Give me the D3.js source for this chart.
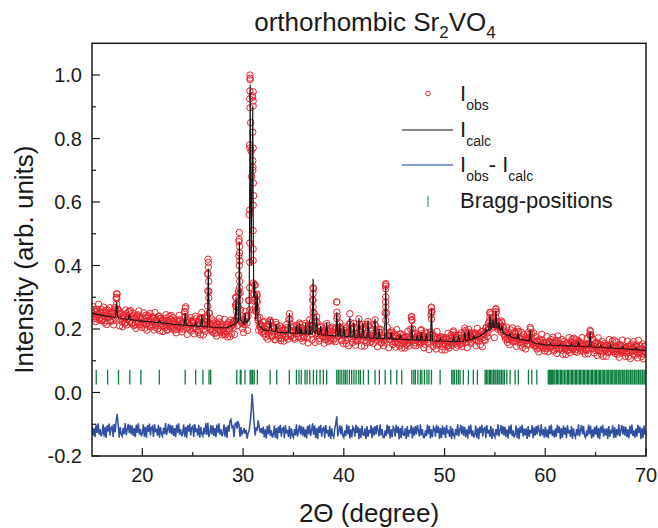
<!DOCTYPE html>
<html><head><meta charset="utf-8">
<script src="https://cdn.jsdelivr.net/npm/d3@7"></script>
<style>body{margin:0;background:#fff}svg{display:block}text{font-family:"Liberation Sans",Arial,Helvetica,sans-serif;fill:#1a1a1a}</style>
</head><body><svg id="c" width="658" height="528"></svg>
<script>
// ---- axis ticks ----
const xTicks=[20,30,40,50,60,70];
const xMinor=[25,35,45,55,65];
const yTicks=[-0.2,0,0.2,0.4,0.6,0.8,1.0];
const yTickLabels=["-0.2","0.0","0.2","0.4","0.6","0.8","1.0"];
const yMinor=[-0.1,0.1,0.3,0.5,0.7,0.9];

// ---- observed intensity, 2θ = 15.00 ... 70.00 step 0.1 ----
const obsStart=15, obsStep=0.1;
const iObs=[
0.252,0.238,0.261,0.244,0.233,0.256,0.247,0.229,0.250,0.262,
0.231,0.254,0.242,0.226,0.259,0.245,0.236,0.251,0.228,0.248,
0.240,0.226,0.249,0.235,0.298,0.310,0.262,0.231,0.247,0.238,
0.222,0.243,0.236,0.219,0.248,0.231,0.240,0.255,0.227,0.238,
0.219,0.241,0.232,0.215,0.236,0.245,0.224,0.212,0.238,0.229,
0.236,0.218,0.229,0.243,0.214,0.226,0.239,0.209,0.231,0.222,
0.213,0.235,0.226,0.205,0.229,0.218,0.240,0.232,0.211,0.224,
0.229,0.207,0.221,0.234,0.212,0.196,0.225,0.216,0.230,0.208,
0.221,0.203,0.227,0.214,0.199,0.223,0.211,0.229,0.206,0.218,
0.209,0.222,0.255,0.270,0.226,0.203,0.217,0.198,0.213,0.225,
0.201,0.218,0.207,0.232,0.215,0.195,0.222,0.209,0.236,0.252,
0.214,0.199,0.211,0.223,0.206,0.372,0.318,0.218,0.201,0.213,
0.196,0.219,0.208,0.187,0.214,0.202,0.222,0.193,0.209,0.216,
0.199,0.184,0.211,0.205,0.192,0.215,0.201,0.176,0.209,0.218,
0.212,0.206,0.227,0.298,0.236,0.241,0.482,0.314,0.226,0.218,
0.224,0.214,0.256,0.232,0.219,0.241,0.560,0.985,0.760,0.935,
0.452,0.308,0.338,0.254,0.305,0.226,0.214,0.207,0.199,0.211,
0.193,0.205,0.186,0.199,0.210,0.181,0.196,0.228,0.192,0.176,
0.188,0.201,0.167,0.214,0.193,0.179,0.198,0.184,0.171,0.195,
0.186,0.199,0.176,0.191,0.205,0.183,0.248,0.207,0.179,0.194,
0.189,0.174,0.198,0.211,0.186,0.177,0.219,0.192,0.203,0.181,
0.176,0.193,0.218,0.187,0.172,0.199,0.229,0.196,0.184,0.292,
0.327,0.201,0.185,0.238,0.179,0.193,0.171,0.209,0.188,0.176,
0.190,0.168,0.183,0.217,0.196,0.175,0.187,0.163,0.192,0.181,
0.170,0.186,0.203,0.285,0.194,0.177,0.219,0.183,0.166,0.188,
0.207,0.179,0.164,0.187,0.172,0.191,0.248,0.183,0.169,0.181,
0.218,0.176,0.162,0.184,0.171,0.232,0.189,0.167,0.178,0.215,
0.178,0.163,0.185,0.172,0.224,0.176,0.158,0.181,0.169,0.186,
0.173,0.229,0.180,0.165,0.177,0.198,0.168,0.157,0.179,0.170,
0.165,0.251,0.340,0.206,0.176,0.168,0.181,0.189,0.161,0.174,
0.170,0.158,0.177,0.166,0.152,0.173,0.184,0.169,0.155,0.171,
0.175,0.162,0.150,0.168,0.177,0.158,0.171,0.238,0.186,0.163,
0.169,0.156,0.172,0.181,0.160,0.167,0.153,0.198,0.176,0.162,
0.166,0.177,0.185,0.159,0.168,0.155,0.190,0.268,0.185,0.170,
0.158,0.166,0.149,0.171,0.161,0.154,0.174,0.163,0.145,0.168,
0.165,0.151,0.172,0.158,0.147,0.169,0.156,0.176,0.162,0.194,
0.172,0.155,0.166,0.149,0.181,0.163,0.152,0.170,0.158,0.167,
0.203,0.171,0.158,0.176,0.199,0.168,0.155,0.174,0.165,0.182,
0.167,0.180,0.162,0.175,0.186,0.171,0.179,0.192,0.173,0.185,
0.182,0.203,0.195,0.188,0.206,0.251,0.214,0.203,0.232,0.207,
0.212,0.262,0.225,0.199,0.223,0.208,0.191,0.220,0.195,0.183,
0.176,0.190,0.171,0.182,0.167,0.184,0.173,0.162,0.178,0.169,
0.174,0.160,0.168,0.193,0.171,0.157,0.166,0.175,0.154,0.163,
0.158,0.169,0.152,0.164,0.171,0.205,0.173,0.155,0.162,0.148,
0.157,0.146,0.163,0.151,0.140,0.159,0.148,0.165,0.143,0.154,
0.146,0.157,0.139,0.152,0.161,0.154,0.143,0.158,0.136,0.149,
0.155,0.141,0.150,0.162,0.137,0.153,0.145,0.133,0.151,0.144,
0.139,0.156,0.147,0.134,0.152,0.141,0.160,0.149,0.138,0.153,
0.143,0.136,0.150,0.163,0.141,0.132,0.155,0.146,0.139,0.151,
0.135,0.149,0.142,0.156,0.182,0.192,0.150,0.138,0.147,0.133,
0.146,0.139,0.152,0.131,0.144,0.150,0.137,0.128,0.148,0.141,
0.133,0.147,0.138,0.126,0.145,0.151,0.135,0.143,0.130,0.139,
0.144,0.129,0.137,0.149,0.132,0.124,0.146,0.135,0.141,0.127,
0.139,0.131,0.145,0.126,0.137,0.148,0.129,0.140,0.122,0.134,
0.130,0.143,0.125,0.136,0.147,0.128,0.138,0.121,0.133,0.144,
0.128];

// ---- observed intensity at the intermediate steps, 2θ = 15.05 ... 69.95 ----
const obsMidStart=15.05;
const iObsMid=[
0.271,0.232,0.255,0.223,0.263,0.242,0.278,0.235,0.252,0.226,
0.231,0.269,0.221,0.252,0.214,0.260,0.239,0.267,0.224,0.254,
0.254,0.213,0.268,0.262,0.300,0.262,0.257,0.210,0.250,0.232,
0.207,0.241,0.219,0.260,0.213,0.234,0.255,0.222,0.258,0.216,
0.250,0.211,0.234,0.202,0.242,0.221,0.257,0.214,0.231,0.205,
0.213,0.251,0.203,0.234,0.196,0.242,0.221,0.249,0.206,0.236,
0.238,0.197,0.252,0.212,0.225,0.201,0.241,0.194,0.234,0.216,
0.192,0.226,0.204,0.245,0.198,0.219,0.240,0.207,0.243,0.201,
0.236,0.197,0.220,0.188,0.228,0.207,0.243,0.200,0.217,0.191,
0.200,0.238,0.265,0.221,0.183,0.229,0.208,0.236,0.193,0.223,
0.226,0.185,0.240,0.200,0.213,0.189,0.229,0.182,0.232,0.235,
0.181,0.215,0.193,0.234,0.215,0.410,0.250,0.196,0.232,0.190,
0.226,0.187,0.210,0.178,0.218,0.197,0.233,0.190,0.207,0.181,
0.192,0.230,0.182,0.213,0.175,0.221,0.200,0.228,0.185,0.215,
0.224,0.183,0.275,0.280,0.211,0.320,0.460,0.260,0.220,0.202,
0.189,0.223,0.240,0.242,0.195,0.290,0.780,0.850,0.680,0.930,
0.620,0.340,0.270,0.290,0.235,0.196,0.236,0.213,0.190,0.222,
0.185,0.223,0.175,0.206,0.168,0.214,0.225,0.221,0.178,0.208,
0.207,0.166,0.221,0.205,0.194,0.170,0.210,0.163,0.203,0.185,
0.162,0.196,0.174,0.215,0.168,0.230,0.232,0.177,0.213,0.171,
0.207,0.168,0.191,0.195,0.199,0.205,0.214,0.171,0.195,0.162,
0.173,0.211,0.200,0.194,0.156,0.213,0.210,0.209,0.166,0.330,
0.250,0.158,0.225,0.220,0.186,0.162,0.205,0.190,0.195,0.177,
0.155,0.189,0.167,0.210,0.161,0.182,0.203,0.170,0.206,0.164,
0.199,0.160,0.183,0.240,0.191,0.205,0.200,0.163,0.180,0.154,
0.195,0.202,0.154,0.185,0.147,0.215,0.220,0.200,0.157,0.200,
0.205,0.149,0.204,0.164,0.177,0.215,0.193,0.146,0.200,0.205,
0.146,0.180,0.158,0.215,0.210,0.173,0.194,0.161,0.197,0.155,
0.215,0.210,0.176,0.144,0.190,0.190,0.199,0.156,0.173,0.147,
0.158,0.335,0.250,0.179,0.141,0.187,0.166,0.194,0.151,0.181,
0.184,0.143,0.198,0.158,0.171,0.147,0.185,0.140,0.180,0.162,
0.140,0.174,0.152,0.193,0.146,0.167,0.200,0.230,0.200,0.149,
0.186,0.147,0.175,0.170,0.178,0.157,0.195,0.185,0.167,0.141,
0.152,0.190,0.175,0.173,0.135,0.181,0.245,0.255,0.145,0.175,
0.178,0.137,0.192,0.152,0.165,0.170,0.175,0.134,0.174,0.156,
0.134,0.168,0.146,0.187,0.140,0.161,0.182,0.149,0.190,0.180,
0.181,0.142,0.165,0.175,0.180,0.152,0.188,0.145,0.162,0.190,
0.195,0.189,0.141,0.185,0.190,0.180,0.159,0.187,0.180,0.185,
0.188,0.147,0.202,0.162,0.175,0.151,0.191,0.144,0.184,0.166,
0.164,0.205,0.176,0.217,0.225,0.245,0.212,0.220,0.235,0.173,
0.226,0.255,0.210,0.205,0.218,0.197,0.225,0.205,0.207,0.181,
0.168,0.206,0.158,0.189,0.151,0.197,0.176,0.204,0.161,0.191,
0.186,0.145,0.200,0.190,0.173,0.149,0.189,0.142,0.182,0.164,
0.137,0.171,0.149,0.190,0.185,0.200,0.185,0.152,0.188,0.146,
0.176,0.137,0.160,0.128,0.168,0.147,0.183,0.140,0.157,0.131,
0.138,0.176,0.128,0.159,0.140,0.167,0.146,0.174,0.131,0.161,
0.164,0.123,0.178,0.138,0.155,0.140,0.167,0.120,0.160,0.142,
0.120,0.154,0.132,0.173,0.126,0.160,0.168,0.135,0.171,0.129,
0.166,0.127,0.155,0.160,0.158,0.137,0.173,0.130,0.147,0.121,
0.132,0.170,0.122,0.153,0.180,0.178,0.140,0.168,0.125,0.155,
0.158,0.117,0.172,0.132,0.150,0.121,0.161,0.114,0.154,0.136,
0.114,0.148,0.126,0.167,0.130,0.150,0.162,0.129,0.165,0.123,
0.159,0.120,0.143,0.111,0.151,0.130,0.165,0.130,0.140,0.114,
0.124,0.162,0.114,0.145,0.107,0.153,0.132,0.160,0.117,0.147,
0.150,0.109,0.164,0.124,0.137,0.113,0.153,0.106,0.146,0.128];

// extra observed points read along the flanks of the strong reflections
const obsPeakX=[17.44,17.46,17.45,
24.24,24.26,
26.52,26.55,26.50,26.58,26.50,26.60,26.48,26.62,26.45,
29.26,29.30,29.34,
29.63,29.60,29.65,29.58,29.67,29.62,29.57,29.66,29.63,29.56,29.68,29.54,
30.68,30.70,30.67,30.66,30.69,30.67,30.66,30.67,30.66,30.65,30.64,30.65,
31.00,31.00,31.00,30.96,31.00,30.97,30.98,30.97,31.02,31.00,31.00,31.00,31.02,31.02,31.05,31.05,
31.38,31.40,31.36,
36.94,36.96,36.95,36.93,36.97,36.95,
39.29,39.31,39.30,
44.15,44.17,44.16,44.15,44.17,44.16,
46.74,46.76,
48.69,48.71,48.70,
54.50,54.51,55.09,55.11,55.10,
64.44,64.46];
const obsPeakY=[0.311,0.295,0.279,
0.253,0.240,
0.420,0.395,0.375,0.350,0.320,0.298,0.272,0.250,0.240,
0.300,0.270,0.255,
0.504,0.475,0.440,0.430,0.415,0.400,0.370,0.350,0.330,0.310,0.290,0.270,
1.000,0.990,0.950,0.925,0.897,0.770,0.575,0.471,0.410,0.330,0.290,0.260,
0.947,0.918,0.902,0.820,0.770,0.730,0.710,0.700,0.660,0.590,0.510,0.416,0.345,0.310,0.290,0.260,
0.310,0.285,0.260,
0.311,0.290,0.269,0.253,0.237,0.211,
0.285,0.253,0.232,
0.343,0.327,0.301,0.285,0.269,0.227,
0.240,0.227,
0.269,0.253,0.232,
0.253,0.237,0.264,0.253,0.237,
0.196,0.182];

// ---- calculated profile (vertices) ----
const calcX=[15.0,16.0,17.0,17.35,17.45,17.55,18.0,18.6,18.7,18.8,19.0,20.0,21.0,21.6,21.7,21.8,23.0,
24.15,24.25,24.35,25.2,25.3,25.4,25.8,25.9,26.0,26.45,26.55,26.65,27.0,28.0,28.5,28.8,29.2,29.3,29.4,
29.55,29.63,29.72,30.1,30.2,30.3,30.6,30.7,30.8,30.96,31.05,31.15,31.25,31.4,31.5,32.0,32.6,32.7,32.8,
33.2,33.3,33.4,34.5,34.6,34.7,35.2,35.3,35.4,35.55,35.6,35.7,35.75,35.8,35.9,36.15,36.2,36.3,36.55,36.6,
36.7,36.85,36.95,37.05,37.2,37.3,37.4,37.6,37.7,37.8,38.2,38.3,38.4,39.2,39.3,39.4,39.5,39.6,39.7,39.9,
40.0,40.1,40.5,40.6,40.7,40.9,41.0,41.1,41.4,41.5,41.6,41.8,41.9,42.0,42.3,42.4,42.5,43.0,43.1,43.2,
43.4,43.5,43.6,44.06,44.16,44.26,44.6,44.7,44.8,45.5,45.6,45.7,46.65,46.75,46.85,47.2,47.3,47.4,47.6,
47.7,47.8,48.1,48.2,48.3,48.6,48.7,48.8,49.5,49.6,49.7,50.8,50.9,51.0,51.3,51.4,51.5,51.9,52.0,52.1,
52.3,52.4,52.5,52.8,52.9,53.0,53.5,54.0,54.1,54.2,54.4,54.5,54.6,54.7,54.8,54.9,55.0,55.1,55.2,55.3,
55.4,55.5,55.6,55.7,55.8,56.4,56.5,56.6,57.2,57.3,57.4,58.0,58.4,58.5,58.6,59.0,60.0,60.4,60.5,60.6,
61.4,61.5,61.6,62.5,62.6,62.7,63.2,63.3,63.4,64.35,64.45,64.55,65.4,65.5,65.6,66.4,66.5,66.6,67.6,67.7,
67.8,68.9,69.0,69.1,70.0];
const calcY=[0.250,0.243,0.238,0.237,0.285,0.236,0.233,0.230,0.245,0.230,0.229,0.225,0.222,0.220,0.228,0.220,0.215,
0.212,0.250,0.212,0.210,0.220,0.209,0.208,0.245,0.208,0.207,0.390,0.207,0.205,0.204,0.205,0.210,0.215,0.300,0.220,
0.225,0.475,0.230,0.215,0.250,0.220,0.230,0.970,0.400,0.900,0.300,0.350,0.230,0.310,0.215,0.198,0.194,0.230,0.194,
0.191,0.215,0.190,0.188,0.250,0.188,0.186,0.210,0.186,0.186,0.220,0.186,0.186,0.200,0.185,0.185,0.220,0.185,0.184,0.230,
0.184,0.184,0.358,0.190,0.186,0.240,0.183,0.183,0.210,0.182,0.181,0.220,0.180,0.178,0.253,0.178,0.178,0.220,0.177,0.177,
0.210,0.176,0.176,0.237,0.175,0.175,0.220,0.174,0.174,0.235,0.174,0.173,0.220,0.173,0.172,0.227,0.172,0.171,0.232,0.171,
0.170,0.200,0.170,0.170,0.333,0.172,0.169,0.190,0.168,0.168,0.180,0.168,0.166,0.216,0.166,0.165,0.180,0.165,0.165,
0.190,0.165,0.164,0.185,0.164,0.163,0.264,0.163,0.162,0.170,0.162,0.160,0.179,0.160,0.160,0.180,0.161,0.162,0.190,0.163,
0.164,0.195,0.166,0.168,0.180,0.170,0.178,0.188,0.200,0.192,0.195,0.243,0.200,0.205,0.230,0.205,0.205,0.259,0.205,0.202,
0.220,0.198,0.195,0.211,0.188,0.178,0.185,0.175,0.170,0.185,0.168,0.165,0.162,0.195,0.160,0.155,0.150,0.149,0.155,0.149,
0.148,0.152,0.148,0.146,0.155,0.146,0.145,0.160,0.145,0.144,0.190,0.144,0.142,0.148,0.142,0.140,0.150,0.140,0.138,0.145,
0.138,0.135,0.140,0.135,0.132];

// ---- difference Iobs - Icalc (offset), 2θ = 15.0 ... 70.0 step 0.1 ----
const iDiff=[
-0.104,-0.137,-0.112,-0.141,-0.101,-0.127,-0.097,-0.133,-0.115,-0.138,
-0.129,-0.100,-0.139,-0.108,-0.143,-0.103,-0.123,-0.098,-0.135,-0.110,
-0.106,-0.140,-0.099,-0.125,-0.088,-0.068,-0.102,-0.142,-0.109,-0.131,
-0.138,-0.111,-0.131,-0.096,-0.134,-0.116,-0.099,-0.128,-0.102,-0.132,
-0.104,-0.137,-0.112,-0.141,-0.101,-0.127,-0.097,-0.133,-0.115,-0.138,
-0.129,-0.100,-0.139,-0.108,-0.143,-0.103,-0.123,-0.098,-0.135,-0.110,
-0.106,-0.140,-0.099,-0.125,-0.114,-0.136,-0.102,-0.142,-0.109,-0.131,
-0.138,-0.111,-0.131,-0.096,-0.134,-0.116,-0.099,-0.128,-0.102,-0.132,
-0.104,-0.137,-0.112,-0.141,-0.101,-0.127,-0.097,-0.133,-0.115,-0.138,
-0.129,-0.100,-0.139,-0.108,-0.143,-0.103,-0.123,-0.098,-0.135,-0.110,
-0.106,-0.140,-0.099,-0.125,-0.114,-0.136,-0.102,-0.142,-0.109,-0.131,
-0.138,-0.111,-0.131,-0.096,-0.134,-0.095,-0.140,-0.128,-0.102,-0.132,
-0.104,-0.137,-0.112,-0.141,-0.101,-0.127,-0.097,-0.133,-0.115,-0.138,
-0.129,-0.100,-0.139,-0.108,-0.143,-0.103,-0.123,-0.090,-0.085,-0.110,
-0.106,-0.140,-0.099,-0.095,-0.114,-0.090,-0.102,-0.140,-0.109,-0.131,
-0.125,-0.112,-0.130,-0.118,-0.145,-0.128,-0.120,-0.095,-0.060,-0.004,
-0.050,-0.100,-0.135,-0.110,-0.120,-0.088,-0.108,-0.126,-0.112,-0.130,
-0.108,-0.141,-0.116,-0.145,-0.105,-0.131,-0.101,-0.137,-0.119,-0.142,
-0.133,-0.104,-0.143,-0.112,-0.147,-0.107,-0.127,-0.102,-0.139,-0.114,
-0.110,-0.144,-0.103,-0.129,-0.118,-0.140,-0.106,-0.146,-0.113,-0.135,
-0.142,-0.115,-0.135,-0.100,-0.138,-0.120,-0.103,-0.132,-0.106,-0.136,
-0.108,-0.141,-0.116,-0.145,-0.105,-0.131,-0.101,-0.137,-0.119,-0.097,
-0.133,-0.104,-0.143,-0.112,-0.147,-0.107,-0.127,-0.102,-0.139,-0.114,
-0.110,-0.144,-0.103,-0.129,-0.118,-0.140,-0.106,-0.146,-0.113,-0.135,
-0.142,-0.115,-0.098,-0.075,-0.138,-0.120,-0.103,-0.132,-0.106,-0.136,
-0.142,-0.119,-0.137,-0.101,-0.131,-0.105,-0.145,-0.116,-0.141,-0.108,
-0.114,-0.139,-0.102,-0.127,-0.107,-0.147,-0.112,-0.143,-0.104,-0.133,
-0.135,-0.113,-0.146,-0.106,-0.140,-0.118,-0.129,-0.103,-0.144,-0.110,
-0.136,-0.106,-0.132,-0.103,-0.120,-0.138,-0.100,-0.135,-0.115,-0.142,
-0.142,-0.119,-0.137,-0.101,-0.131,-0.105,-0.145,-0.116,-0.141,-0.108,
-0.114,-0.139,-0.102,-0.127,-0.107,-0.147,-0.112,-0.143,-0.104,-0.133,
-0.135,-0.113,-0.146,-0.106,-0.140,-0.118,-0.129,-0.103,-0.144,-0.110,
-0.136,-0.106,-0.132,-0.103,-0.120,-0.138,-0.100,-0.135,-0.115,-0.142,
-0.142,-0.119,-0.137,-0.101,-0.131,-0.105,-0.145,-0.116,-0.141,-0.108,
-0.114,-0.139,-0.102,-0.127,-0.107,-0.147,-0.112,-0.143,-0.104,-0.133,
-0.110,-0.144,-0.103,-0.129,-0.118,-0.140,-0.106,-0.146,-0.113,-0.135,
-0.142,-0.115,-0.135,-0.100,-0.138,-0.120,-0.103,-0.132,-0.106,-0.136,
-0.108,-0.141,-0.116,-0.145,-0.105,-0.131,-0.101,-0.137,-0.119,-0.142,
-0.133,-0.104,-0.143,-0.112,-0.147,-0.107,-0.127,-0.102,-0.139,-0.114,
-0.110,-0.144,-0.103,-0.129,-0.118,-0.140,-0.106,-0.146,-0.113,-0.135,
-0.142,-0.115,-0.135,-0.100,-0.138,-0.120,-0.103,-0.132,-0.106,-0.136,
-0.108,-0.141,-0.116,-0.145,-0.105,-0.131,-0.101,-0.137,-0.119,-0.142,
-0.133,-0.104,-0.143,-0.112,-0.147,-0.107,-0.127,-0.102,-0.139,-0.114,
-0.135,-0.113,-0.146,-0.106,-0.140,-0.118,-0.129,-0.103,-0.144,-0.110,
-0.136,-0.106,-0.132,-0.103,-0.120,-0.138,-0.100,-0.135,-0.115,-0.142,
-0.108,-0.141,-0.116,-0.145,-0.105,-0.131,-0.101,-0.137,-0.119,-0.142,
-0.114,-0.139,-0.102,-0.127,-0.107,-0.147,-0.112,-0.143,-0.104,-0.133,
-0.110,-0.144,-0.103,-0.129,-0.118,-0.140,-0.106,-0.146,-0.113,-0.135,
-0.142,-0.115,-0.135,-0.100,-0.138,-0.120,-0.103,-0.132,-0.106,-0.136,
-0.142,-0.119,-0.137,-0.101,-0.131,-0.105,-0.145,-0.116,-0.141,-0.108,
-0.133,-0.104,-0.143,-0.112,-0.147,-0.107,-0.127,-0.102,-0.139,-0.114,
-0.135,-0.113,-0.146,-0.106,-0.140,-0.118,-0.129,-0.103,-0.144,-0.110,
-0.142,-0.115,-0.135,-0.100,-0.138,-0.120,-0.103,-0.132,-0.106,-0.136,
-0.108,-0.141,-0.116,-0.145,-0.105,-0.131,-0.101,-0.137,-0.119,-0.142,
-0.114,-0.139,-0.102,-0.127,-0.107,-0.147,-0.112,-0.143,-0.104,-0.133,
-0.120];

// ---- Bragg reflection positions (2θ) ----
const braggPos=[15.42,16.55,17.63,18.75,19.85,21.68,24.25,25.29,26.01,26.62,26.78,
29.37,29.72,29.80,30.19,30.70,30.80,30.95,31.10,31.42,32.68,33.34,34.59,35.30,35.55,35.78,
36.15,36.35,36.62,36.98,37.30,37.64,37.97,38.30,
39.30,39.45,39.62,39.80,40.00,40.15,40.32,40.55,40.78,41.00,41.22,41.48,41.65,41.95,
42.44,43.10,43.53,44.10,44.66,45.26,45.75,
46.75,46.95,47.10,47.35,47.60,47.75,48.00,48.25,48.45,48.70,
49.56,50.72,50.85,51.00,51.20,51.38,51.54,51.87,52.37,52.86,53.26,
54.03,54.15,54.30,54.45,54.55,54.70,54.85,55.00,55.10,55.25,55.40,55.50,55.65,55.80,55.95,56.18,
56.51,57.00,57.33,58.33,58.66,59.16,
60.30,60.40,60.50,60.60,60.72,60.85,60.95,61.10,61.20,61.35,61.50,61.60,61.75,61.90,62.05,62.20,
62.30,62.45,62.60,62.70,62.85,63.00,63.10,63.25,63.40,63.50,63.65,63.80,63.90,64.05,64.20,64.30,
64.45,64.60,64.70,64.85,65.00,65.10,65.25,65.40,65.50,65.65,65.80,65.90,66.05,66.20,66.30,66.45,
66.60,66.70,66.85,67.00,67.10,67.25,67.40,67.50,67.65,67.80,67.90,68.05,68.20,68.30,68.45,68.60,
68.70,68.85,69.00,69.10,69.25,69.40,69.50,69.65,69.80,69.90];
const braggLow=0.025, braggHigh=0.072;

// ---- drawing ----
const svg=d3.select("#c");
const L=92,R=646,T=43.3,B=456;
const x=d3.scaleLinear().domain([15,70]).range([L,R]);
const y=d3.scaleLinear().domain([-0.2,1.1]).range([B,T]);
const red="#e5262d", blue="#3150a2", green="#0b7d3f";

svg.append("clipPath").attr("id","clip").append("rect")
  .attr("x",L).attr("y",T).attr("width",R-L).attr("height",B-T);
const plot=svg.append("g").attr("clip-path","url(#clip)");

// Bragg ticks
plot.append("g").selectAll("line").data(braggPos).join("line")
  .attr("x1",d=>x(d)).attr("x2",d=>x(d))
  .attr("y1",y(braggLow)).attr("y2",y(braggHigh))
  .attr("stroke",green).attr("stroke-width",1.3);

// difference
const diffPts=iDiff.map((v,i)=>[obsStart+i*obsStep,v]);
plot.append("path").datum(diffPts)
  .attr("d",d3.line().x(d=>x(d[0])).y(d=>y(d[1])))
  .attr("fill","none").attr("stroke",blue).attr("stroke-width",1.5);

// observed
const obsPts=iObs.map((v,i)=>[obsStart+i*obsStep,v])
  .concat(iObsMid.map((v,i)=>[obsMidStart+i*obsStep,v]))
  .concat(obsPeakX.map((t,i)=>[t,obsPeakY[i]]));
plot.append("g").selectAll("circle").data(obsPts).join("circle")
  .attr("cx",d=>x(d[0])).attr("cy",d=>y(d[1])).attr("r",3.2)
  .attr("fill","none").attr("stroke",red).attr("stroke-width",1);

// calculated
plot.append("path").datum(calcX.map((t,i)=>[t,calcY[i]]))
  .attr("d",d3.line().x(d=>x(d[0])).y(d=>y(d[1])))
  .attr("fill","none").attr("stroke","#111").attr("stroke-width",1.1);

// axes ticks (inward)
const ax=svg.append("g").attr("stroke","#1a1a1a").attr("stroke-width",1.2);
ax.selectAll(".xt").data(xTicks).join("line")
  .attr("x1",d=>x(d)).attr("x2",d=>x(d)).attr("y1",B).attr("y2",B-8);
ax.selectAll(".xm").data(xMinor).join("line")
  .attr("x1",d=>x(d)).attr("x2",d=>x(d)).attr("y1",B).attr("y2",B-4);
ax.selectAll(".yt").data(yTicks).join("line")
  .attr("y1",d=>y(d)).attr("y2",d=>y(d)).attr("x1",L).attr("x2",L+8);
ax.selectAll(".ym").data(yMinor).join("line")
  .attr("y1",d=>y(d)).attr("y2",d=>y(d)).attr("x1",L).attr("x2",L+4);

// frame
svg.append("rect").attr("x",L).attr("y",T).attr("width",R-L).attr("height",B-T)
  .attr("fill","none").attr("stroke","#1a1a1a").attr("stroke-width",1.5);

// tick labels
svg.append("g").selectAll("text").data(xTicks).join("text")
  .attr("x",d=>x(d)).attr("y",482).attr("text-anchor","middle")
  .attr("font-size",20).text(d=>d);
svg.append("g").selectAll("text").data(yTicks).join("text")
  .attr("x",82).attr("y",d=>y(d)+7).attr("text-anchor","end")
  .attr("font-size",20).text((d,i)=>yTickLabels[i]);

// axis titles
svg.append("text").attr("x",(L+R)/2).attr("y",522).attr("text-anchor","middle")
  .attr("font-size",26).text("2\u0398 (degree)");
svg.append("text").attr("transform",`translate(33,${(T+B)/2+10}) rotate(-90)`)
  .attr("text-anchor","middle").attr("font-size",26).text("Intensity (arb. units)");

// title
const ttl=svg.append("text").attr("x",(L+R)/2+6).attr("y",31).attr("text-anchor","middle").attr("font-size",26);
ttl.append("tspan").text("orthorhombic Sr");
ttl.append("tspan").attr("dy",7).attr("font-size",17).text("2");
ttl.append("tspan").attr("dy",-7).text("VO");
ttl.append("tspan").attr("dy",7).attr("font-size",17).text("4");

// legend
const lg=svg.append("g");
lg.append("circle").attr("cx",428).attr("cy",93.5).attr("r",2.3)
  .attr("fill","none").attr("stroke",red).attr("stroke-width",1);
lg.append("line").attr("x1",402).attr("x2",453).attr("y1",130).attr("y2",130)
  .attr("stroke","#111").attr("stroke-width",1.1);
lg.append("line").attr("x1",402).attr("x2",453).attr("y1",165).attr("y2",165)
  .attr("stroke","#5a78b8").attr("stroke-width",1.3);
lg.append("line").attr("x1",428).attr("x2",428).attr("y1",196).attr("y2",207)
  .attr("stroke","#3a9a66").attr("stroke-width",1.2);
function subLabel(xp,yp,parts){
  const t=lg.append("text").attr("x",xp).attr("y",yp).attr("font-size",22);
  parts.forEach(p=>{
    const s=t.append("tspan").text(p[0]);
    if(p[1]==="sub") s.attr("font-size",14).attr("dy",9);
    if(p[1]==="up") s.attr("dy",-9);
  });
}
subLabel(460,101,[["I"],["obs","sub"]]);
subLabel(460,137,[["I"],["calc","sub"]]);
subLabel(460,172,[["I"],["obs","sub"],["- I","up"],["calc","sub"]]);
lg.append("text").attr("x",460).attr("y",208).attr("font-size",22).text("Bragg-positions");
</script></body></html>
